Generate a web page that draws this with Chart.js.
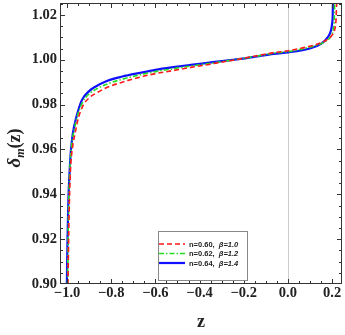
<!DOCTYPE html>
<html>
<head>
<meta charset="utf-8">
<script src="https://cdn.jsdelivr.net/npm/chart.js@4.4.1/dist/chart.umd.min.js"></script>
<style>
  html, body { margin: 0; padding: 0; background: #fff; }
  #wrap { width: 345px; height: 335px; }
</style>
</head>
<body>
<div id="wrap"><canvas id="chartDelta"></canvas></div>
<script>
// values
const seriesLabels = ["n=0.60,  ", "n=0.62,  ", "n=0.64,  "];
const seriesBeta = ["\u03b2=1.0", "\u03b2=1.2", "\u03b2=1.4"];

const zRed = [-0.996, -0.991, -0.985, -0.975, -0.964, -0.949, -0.925, -0.9, -0.87, -0.82, -0.75, -0.668, -0.6, -0.518, -0.44, -0.365, -0.29, -0.214, -0.14, -0.064, 0.0, 0.09, 0.14, 0.175, 0.2, 0.212, 0.218, 0.221];
const dRed = [0.9, 0.93, 0.95, 0.961, 0.967, 0.974, 0.98, 0.983, 0.985, 0.9876, 0.99, 0.9923, 0.9938, 0.9952, 0.9966, 0.9978, 0.9991, 1.0004, 1.0018, 1.0032, 1.004, 1.0058, 1.0072, 1.0088, 1.011, 1.0135, 1.018, 1.026];

const zGreen = [-0.998, -0.994, -0.988, -0.979, -0.968, -0.953, -0.93, -0.9, -0.87, -0.82, -0.75, -0.668, -0.6, -0.518, -0.44, -0.365, -0.29, -0.214, -0.14, -0.064, 0.0, 0.09, 0.14, 0.172, 0.195, 0.205, 0.21, 0.212];
const dGreen = [0.9, 0.93, 0.95, 0.962, 0.9685, 0.975, 0.981, 0.9848, 0.9868, 0.9891, 0.9913, 0.9933, 0.9947, 0.996, 0.9972, 0.9982, 0.9993, 1.0004, 1.0016, 1.0029, 1.0036, 1.0054, 1.0068, 1.0083, 1.0105, 1.0132, 1.018, 1.026];

const zBlue = [-1.001, -0.998, -0.994, -0.988, -0.983, -0.974, -0.959, -0.933, -0.9, -0.88, -0.82, -0.75, -0.668, -0.6, -0.518, -0.44, -0.365, -0.29, -0.214, -0.14, -0.064, 0.0, 0.06, 0.09, 0.15, 0.18, 0.195, 0.2, 0.203, 0.204];
const dBlue = [0.9, 0.92, 0.9375, 0.951, 0.959, 0.967, 0.974, 0.982, 0.986, 0.9875, 0.9905, 0.9925, 0.9942, 0.9955, 0.9967, 0.9977, 0.9986, 0.9995, 1.0004, 1.0015, 1.0026, 1.0033, 1.0041, 1.0048, 1.0071, 1.01, 1.013, 1.016, 1.02, 1.026];

const xTicks = [-1.0, -0.8, -0.6, -0.4, -0.2, 0.0, 0.2];
const yTicks = [0.90, 0.92, 0.94, 0.96, 0.98, 1.00, 1.02];

const toPoints = (xs, ys) => xs.map((x, i) => ({ x: x, y: ys[i] }));
const minus = (s) => s.replace("-", "\u2212");
const tickFont = { family: "Liberation Serif", size: 14.5, weight: "bold" };

const framePlugin = {
  id: "frame",
  beforeDatasetsDraw(chart) {
    const { ctx, chartArea: a, scales } = chart;
    const x0 = scales.x.getPixelForValue(0);
    ctx.save();
    ctx.strokeStyle = "#cccccc";
    ctx.lineWidth = 1;
    ctx.beginPath();
    ctx.moveTo(Math.round(x0) + 0.5, a.top);
    ctx.lineTo(Math.round(x0) + 0.5, a.bottom);
    ctx.stroke();
    ctx.restore();
  },
  afterDatasetsDraw(chart) {
    const { ctx, chartArea: a, scales } = chart;
    ctx.save();
    ctx.strokeStyle = "#333";
    ctx.lineWidth = 1;
    ctx.strokeRect(a.left + 0.5, a.top + 0.5, a.right - a.left - 1, a.bottom - a.top - 1);
    ctx.beginPath();
    // x ticks, major every 0.2, minor every 0.05
    for (let k = -21; k <= 5; k++) {
      const v = k * 0.05;
      const px = Math.round(scales.x.getPixelForValue(v)) + 0.5;
      if (px < a.left || px > a.right) continue;
      const len = k % 4 === 0 ? 5 : 3;
      ctx.moveTo(px, a.bottom); ctx.lineTo(px, a.bottom - len);
      ctx.moveTo(px, a.top); ctx.lineTo(px, a.top + len);
    }
    // y ticks, major every 0.02, minor every 0.005
    for (let k = 0; k <= 26; k++) {
      const v = 0.9 + k * 0.005;
      const py = Math.round(scales.y.getPixelForValue(v)) + 0.5;
      if (py < a.top || py > a.bottom) continue;
      const len = k % 4 === 0 ? 5 : 3;
      ctx.moveTo(a.left, py); ctx.lineTo(a.left + len, py);
      ctx.moveTo(a.right, py); ctx.lineTo(a.right - len, py);
    }
    ctx.stroke();

    // legend box
    const bx = 158, by = 231, bw = 89, bh = 49;
    ctx.fillStyle = "#fff";
    ctx.fillRect(bx, by, bw, bh);
    ctx.strokeStyle = "#888";
    ctx.strokeRect(bx + 0.5, by + 0.5, bw, bh);
    const rows = [244, 253.5, 263];
    chart.data.datasets.forEach((ds, i) => {
      ctx.strokeStyle = ds.borderColor;
      ctx.lineWidth = ds.borderWidth;
      ctx.setLineDash(ds.borderDash || []);
      ctx.beginPath();
      ctx.moveTo(bx + 1, rows[i]);
      ctx.lineTo(bx + 27, rows[i]);
      ctx.stroke();
      ctx.setLineDash([]);
      ctx.fillStyle = "#222";
      ctx.textBaseline = "middle";
      ctx.textAlign = "left";
      ctx.font = "bold 7.5px 'Liberation Sans'";
      ctx.fillText(seriesLabels[i], bx + 31, rows[i] + 0.5);
      const w = ctx.measureText(seriesLabels[i]).width;
      ctx.font = "italic bold 7.5px 'Liberation Sans'";
      ctx.fillText(seriesBeta[i], bx + 31 + w, rows[i] + 0.5);
    });

    // axis titles
    ctx.fillStyle = "#222";
    ctx.textAlign = "center";
    ctx.textBaseline = "alphabetic";
    ctx.font = "bold 18px 'Liberation Serif'";
    ctx.fillText("z", (a.left + a.right) / 2, 327);

    ctx.translate(20, 148);
    ctx.rotate(-Math.PI / 2);
    ctx.textAlign = "left";
    const parts = [
      ["italic bold 19px 'Liberation Serif'", "\u03b4", 0],
      ["italic bold 12px 'Liberation Serif'", "m", 4],
      ["bold 18px 'Liberation Serif'", "(z)", 0],
    ];
    let total = 0;
    parts.forEach((p) => { ctx.font = p[0]; total += ctx.measureText(p[1]).width; });
    let cx = -total / 2;
    parts.forEach((p) => {
      ctx.font = p[0];
      ctx.fillText(p[1], cx, p[2]);
      cx += ctx.measureText(p[1]).width;
    });
    ctx.restore();
  },
};

new Chart(document.querySelector("#chartDelta"), {
  type: "line",
  data: {
    datasets: [
      {
        label: seriesLabels[0] + seriesBeta[0],
        data: toPoints(zRed, dRed),
        borderColor: "#ff1a1a",
        borderWidth: 1.6,
        borderDash: [5, 3],
      },
      {
        label: seriesLabels[1] + seriesBeta[1],
        data: toPoints(zGreen, dGreen),
        borderColor: "#22dd22",
        borderWidth: 1.6,
        borderDash: [5, 2, 1.5, 2],
      },
      {
        label: seriesLabels[2] + seriesBeta[2],
        data: toPoints(zBlue, dBlue),
        borderColor: "#1010ff",
        borderWidth: 2.2,
      },
    ],
  },
  options: {
    responsive: true,
    maintainAspectRatio: false,
    animation: false,
    layout: { padding: { top: 3, right: 3, left: 0, bottom: 0 } },
    elements: {
      point: { radius: 0 },
      line: { cubicInterpolationMode: "monotone", fill: false },
    },
    plugins: { legend: { display: false }, tooltip: { enabled: false } },
    scales: {
      x: {
        type: "linear",
        min: -1.032,
        max: 0.245,
        grid: { display: false, drawTicks: false },
        border: { display: false },
        afterBuildTicks: (scale) => { scale.ticks = xTicks.map((v) => ({ value: v })); },
        afterFit: (scale) => {
          scale.height = 51;
          scale.paddingLeft = 0;
          scale.paddingRight = 0;
        },
        ticks: {
          font: tickFont,
          color: "#222",
          padding: 1,
          maxRotation: 0,
          callback: (v) => minus(Number(v).toFixed(1)),
        },
      },
      y: {
        type: "linear",
        min: 0.9,
        max: 1.0253,
        grid: { display: false, drawTicks: false },
        border: { display: false },
        afterBuildTicks: (scale) => { scale.ticks = yTicks.map((v) => ({ value: v })); },
        afterFit: (scale) => {
          scale.width = 60;
          scale.paddingTop = 0;
          scale.paddingBottom = 0;
        },
        ticks: {
          font: tickFont,
          color: "#222",
          padding: 3,
          callback: (v) => Number(v).toFixed(2),
        },
      },
    },
  },
  plugins: [framePlugin],
});
</script>
</body>
</html>
